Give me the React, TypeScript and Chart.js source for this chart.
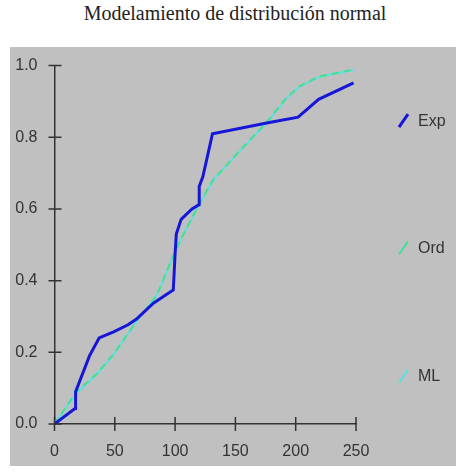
import React, { useEffect, useRef } from "react";
import { Chart, registerables } from "chart.js";

Chart.register(...registerables);

const titleText = "Modelamiento de distribución normal";
const seriesNames = ["Exp", "Ord", "ML"];

const expX = [0, 17, 17.5, 29, 37, 49, 61, 68, 82, 90, 98.5, 100, 101, 105, 114, 120, 120, 123, 131, 176, 202, 219, 248];
const expY = [0, 0.043, 0.09, 0.19, 0.24, 0.257, 0.277, 0.293, 0.337, 0.355, 0.374, 0.475, 0.53, 0.571, 0.6, 0.612, 0.663, 0.69, 0.81, 0.84, 0.856, 0.906, 0.952];

const ordX = [0, 18, 35, 49, 68, 85, 98.5, 105.5, 120.5, 131.5, 156.5, 176, 192.5, 203.5, 220, 248];
const ordY = [0, 0.089, 0.14, 0.195, 0.287, 0.36, 0.47, 0.52, 0.617, 0.681, 0.773, 0.842, 0.911, 0.943, 0.97, 0.989];

const mlX = [0, 18, 35, 49, 68, 85, 98.5, 105.5, 120.5, 131.5, 156.5, 176, 192.5, 203.5, 220, 248];
const mlY = [0, 0.085, 0.138, 0.193, 0.286, 0.36, 0.468, 0.52, 0.615, 0.68, 0.772, 0.84, 0.909, 0.942, 0.969, 0.988];

const xTicks = [0, 50, 100, 150, 200, 250];
const yTicks = [0, 0.2, 0.4, 0.6, 0.8, 1.0];

const colors = ["#1616d8", "#44df95", "#5fe0e0"];
const legendFractions = [0.155, 0.51, 0.868];

const toPoints = (xs: number[], ys: number[]) => xs.map((x, i) => ({ x, y: ys[i] }));

const crossTicks = {
  id: "crossTicks",
  afterDraw(chart: any) {
    const ctx = chart.ctx;
    const xs = chart.scales.x;
    const ys = chart.scales.y;
    const area = chart.chartArea;
    ctx.save();
    ctx.strokeStyle = "#333";
    ctx.lineWidth = 1.5;
    ctx.beginPath();
    xTicks.forEach((v) => {
      const px = xs.getPixelForValue(v);
      ctx.moveTo(px, area.bottom - 7);
      ctx.lineTo(px, area.bottom + 7);
    });
    yTicks.forEach((v) => {
      const py = ys.getPixelForValue(v);
      ctx.moveTo(area.left - 6, py);
      ctx.lineTo(area.left + 7, py);
    });
    ctx.stroke();

    // legend
    const lx = area.right + 43;
    seriesNames.forEach((name, i) => {
      const cy = area.top + (area.bottom - area.top) * legendFractions[i];
      ctx.strokeStyle = colors[i];
      ctx.lineWidth = i === 0 ? 3 : 2;
      ctx.beginPath();
      ctx.moveTo(lx, cy + 6);
      ctx.lineTo(lx + 9, cy - 7);
      ctx.stroke();
      ctx.fillStyle = "#333";
      ctx.font = "16px 'Liberation Sans', Arial, sans-serif";
      ctx.textBaseline = "middle";
      ctx.fillText(name, lx + 19, cy);
    });
    ctx.restore();
  },
};

export default function App() {
  const ref = useRef<HTMLCanvasElement | null>(null);
  useEffect(() => {
    if (!ref.current) return;
    const chart = new Chart(ref.current, {
      type: "line",
      data: {
        datasets: [
          {
            label: seriesNames[0],
            data: toPoints(expX, expY),
            borderColor: colors[0],
            borderWidth: 3,
            pointRadius: 0,
            tension: 0,
            order: 0,
          },
          {
            label: seriesNames[1],
            data: toPoints(ordX, ordY),
            borderColor: colors[1],
            borderWidth: 2,
            borderDash: [7, 5],
            pointRadius: 0,
            tension: 0,
            order: 1,
          },
          {
            label: seriesNames[2],
            data: toPoints(mlX, mlY),
            borderColor: colors[2],
            borderWidth: 2,
            pointRadius: 0,
            tension: 0,
            order: 2,
          },
        ],
      },
      options: {
        animation: false,
        responsive: false,
        maintainAspectRatio: false,
        layout: { padding: { left: 0, right: 100, top: 14, bottom: 0 } },
        plugins: {
          legend: { display: false },
          title: { display: false },
          tooltip: { enabled: false },
        },
        scales: {
          x: {
            type: "linear",
            min: 0,
            max: 250,
            grid: { display: false },
            border: { display: true, color: "#333", width: 1.5 },
            afterBuildTicks: (s: any) => {
              s.ticks = xTicks.map((v) => ({ value: v }));
            },
            afterFit: (s: any) => {
              s.height = 42;
            },
            ticks: {
              color: "#333",
              padding: 10,
              maxRotation: 0,
              font: { family: "'Liberation Sans', Arial, sans-serif", size: 16 },
              callback: (v: any) => String(v),
            },
          },
          y: {
            type: "linear",
            min: 0,
            max: 1,
            grid: { display: false },
            border: { display: true, color: "#333", width: 1.5 },
            afterBuildTicks: (s: any) => {
              s.ticks = yTicks.map((v) => ({ value: v }));
            },
            afterFit: (s: any) => {
              s.width = 44.5;
            },
            ticks: {
              color: "#333",
              padding: 9,
              font: { family: "'Liberation Sans', Arial, sans-serif", size: 16 },
              callback: (v: any) => Number(v).toFixed(1),
            },
          },
        },
      },
      plugins: [crossTicks],
    });
    return () => chart.destroy();
  }, []);

  return (
    <div style={{ position: "absolute", left: 0, top: 0, width: 461, height: 473, background: "#fff", overflow: "hidden" }}>
      <div
        style={{
          position: "absolute",
          left: 10,
          top: 2,
          width: 450,
          textAlign: "center",
          fontFamily: "'Liberation Serif', 'Times New Roman', serif",
          fontSize: 20,
          color: "#222",
        }}
      >
        {titleText}
      </div>
      <div style={{ position: "absolute", left: 10, top: 47, width: 446, height: 419, background: "#c0c0c0" }}>
        <canvas ref={ref} width={446} height={419} style={{ display: "block" }} />
      </div>
    </div>
  );
}
